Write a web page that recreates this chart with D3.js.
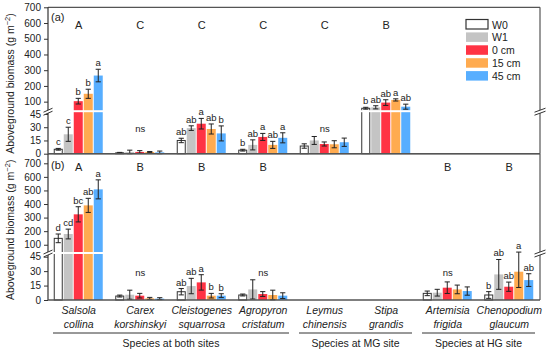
<!DOCTYPE html>
<html>
<head>
<meta charset="utf-8">
<style>
  body { margin: 0; background: #fff; }
  svg text { font-family: "Liberation Sans", Arial, sans-serif; fill: #222; }
</style>
</head>
<body>
<div id="vis"></div>
<script src="https://d3js.org/d3.v7.min.js"></script>
<script>
// species (two lines each) and treatments
const species = ['Salsola collina', 'Carex korshinskyi', 'Cleistogenes squarrosa', 'Agropyron cristatum',
                 'Leymus chinensis', 'Stipa grandis', 'Artemisia frigida', 'Chenopodium glaucum']
const treatments = ['W0', 'W1', '0 cm', '15 cm', '45 cm']
const colors = ['#ffffff', '#c4c4c4', '#ff3344', '#ffab50', '#57aeff']

// panel (a) — values per species, in treatment order
const meanA = [
  [5, 22, 103, 150, 266],
  [1, 2, 2, 2, 1.5],
  [15, 29, 34, 28, 23],
  [4, 10, 19, 10, 18],
  [8.7, 15, 11, 10.7, 13],
  [58, 64, 94, 111, 68],
  null,
  null
]
const errA = [
  [1, 8, 18, 29, 40],
  [0.5, 2, 1.5, 0.5, 1.5],
  [2.5, 2.6, 6, 5.7, 8.5],
  [1, 5.7, 4, 4, 5.7],
  [2.5, 4.5, 2.3, 4, 4.7],
  [6, 10, 18, 7, 16],
  null,
  null
]
const letA = [
  ['c', 'c', 'b', 'b', 'a'],
  'ns',
  ['ab', 'ab', 'a', 'ab', 'b'],
  ['b', 'ab', 'a', 'ab', 'a'],
  'ns',
  ['b', 'ab', 'ab', 'a', 'ab'],
  null,
  null
]
const groupA = ['A', 'C', 'C', 'C', 'C', 'B', '', '']

// panel (b)
const meanB = [
  [147, 179, 324, 390, 508],
  [4.1, 5.5, 4.5, 1.7, 1.4],
  [8.6, 14.5, 18.3, 4.5, 4.5],
  [5.2, 11, 6.2, 5.2, 4.5],
  null,
  null,
  [6.9, 7.6, 12.8, 11, 9.3],
  [5.2, 26.6, 13.8, 29.4, 20.7]
]
const errB = [
  [32, 36, 56, 52, 70],
  [1, 4.7, 2.4, 1, 1],
  [3.3, 8, 8, 2.4, 2],
  [1, 10, 2.5, 5, 3],
  null,
  null,
  [2.4, 3.5, 6, 4.5, 4.3],
  [3.5, 15.5, 4.8, 16.4, 6.6]
]
const letB = [
  ['d', 'cd', 'bc', 'ab', 'a'],
  'ns',
  ['ab', 'ab', 'a', 'b', 'b'],
  'ns',
  null,
  null,
  'ns',
  ['b', 'ab', 'ab', 'a', 'ab']
]
const groupB = ['A', 'B', 'B', 'B', '', '', 'B', 'B']

const lowTicks = [0, 15, 30, 45]
const highTicks = [100, 200, 300, 400, 500, 600, 700]
const nsLevel = 25

const siteGroups = [
  {label: 'Species at both sites', from: 0, to: 3},
  {label: 'Species at MG site', from: 4, to: 5},
  {label: 'Species at HG site', from: 6, to: 7}
]

const W = 550, H = 353
const left = 48, right = 540
const svg = d3.select('#vis').append('svg').attr('width', W).attr('height', H)

const x = d3.scaleBand().domain(species).range([left, right])
const xi = d3.scaleBand().domain(treatments).range([0, 50])
const barW = 9

const panels = [
  {name: '(a)', mean: meanA, err: errA, let: letA, grp: groupA,
   lower: d3.scaleLinear().domain([0, 45]).range([153.7, 114]),
   upper: d3.scaleLinear().domain([45, 700]).range([110.3, 7.3]),
   top: 7.3, brk: 111.2, labY: 21, grpY: 29},
  {name: '(b)', mean: meanB, err: errB, let: letB, grp: groupB,
   lower: d3.scaleLinear().domain([0, 45]).range([300, 256.7]),
   upper: d3.scaleLinear().domain([45, 700]).range([252.2, 163.3]),
   top: 153.7, brk: 253, labY: 169, grpY: 170.5}
]

function breakMark(g, cx, cy, w) {
  g.append('path')
    .attr('d', `M${cx - w},${cy + 0.5} L${cx + w},${cy - 3.5} L${cx + w},${cy - 0.5} L${cx - w},${cy + 3.5}Z`)
    .attr('fill', '#fff')
  g.append('line').attr('x1', cx - w).attr('y1', cy + 0.5).attr('x2', cx + w).attr('y2', cy - 3.5)
    .attr('stroke', '#333').attr('stroke-width', 1)
  g.append('line').attr('x1', cx - w).attr('y1', cy + 3.5).attr('x2', cx + w).attr('y2', cy - 0.5)
    .attr('stroke', '#333').attr('stroke-width', 1)
}

panels.forEach(p => {
  const g = svg.append('g')
  const y = v => v <= 45 ? p.lower(v) : p.upper(v)
  const base = p.lower(0)

  // frame
  g.append('line').attr('x1', left).attr('x2', right).attr('y1', p.top).attr('y2', p.top)
    .attr('stroke', '#555').attr('stroke-width', 1.2)
  g.append('line').attr('x1', right).attr('x2', right).attr('y1', p.top).attr('y2', base)
    .attr('stroke', '#555').attr('stroke-width', 1.2)

  // bars
  species.forEach((s, i) => {
    const m = p.mean[i]
    if (!m) return
    const gs = g.append('g').attr('transform', `translate(${x(s) + x.bandwidth() / 2 - 25},0)`)
    gs.selectAll('rect.bar')
      .data(m)
      .join('rect')
      .attr('class', 'bar')
      .attr('x', (d, j) => xi(treatments[j]) + (j === 0 ? 0.5 : 0))
      .attr('y', d => y(d))
      .attr('width', (d, j) => j === 0 ? barW - 1 : barW)
      .attr('height', d => base - y(d))
      .attr('fill', (d, j) => colors[j])
      .attr('stroke', (d, j) => j === 0 ? '#333' : 'none')
      .attr('stroke-width', 1)
  })

  // white break band through tall bars
  g.append('rect').attr('x', left + 1).attr('y', p.brk - 1).attr('width', right - left - 2).attr('height', 2)
    .attr('fill', '#fff')

  species.forEach((s, i) => {
    const m = p.mean[i]
    if (!m) return
    const e = p.err[i]
    const gs = g.append('g').attr('transform', `translate(${x(s) + x.bandwidth() / 2 - 25},0)`)
    const cx = j => xi(treatments[j]) + barW / 2
    const eb = gs.selectAll('g.err').data(m).join('g').attr('class', 'err')
    eb.append('line')
      .attr('x1', (d, j) => cx(j)).attr('x2', (d, j) => cx(j))
      .attr('y1', (d, j) => y(d - e[j])).attr('y2', (d, j) => y(d + e[j]))
      .attr('stroke', '#222').attr('stroke-width', 1)
    ;[-1, 1].forEach(sg => {
      eb.append('line')
        .attr('x1', (d, j) => cx(j) - 2.6).attr('x2', (d, j) => cx(j) + 2.6)
        .attr('y1', (d, j) => y(d + sg * e[j])).attr('y2', (d, j) => y(d + sg * e[j]))
        .attr('stroke', '#222').attr('stroke-width', 1)
    })
    const l = p.let[i]
    if (Array.isArray(l)) {
      gs.selectAll('text.let').data(m).join('text').attr('class', 'let')
        .attr('x', (d, j) => cx(j))
        .attr('y', (d, j) => y(d + e[j]) - 3)
        .attr('text-anchor', 'middle')
        .attr('font-size', 9.5)
        .text((d, j) => l[j])
    } else if (l === 'ns') {
      gs.append('text').attr('x', 25).attr('y', y(nsLevel))
        .attr('text-anchor', 'middle').attr('font-size', 9.5).text('ns')
    }
  })

  // group letters
  g.selectAll('text.grp').data(species).join('text').attr('class', 'grp')
    .attr('x', d => x(d) + x.bandwidth() / 2)
    .attr('y', p.grpY)
    .attr('text-anchor', 'middle')
    .attr('font-size', 11)
    .text((d, i) => p.grp[i])

  // y axes
  const axL = g.append('g').attr('transform', `translate(${left},0)`)
    .call(d3.axisLeft(p.lower).tickValues(lowTicks).tickSize(4).tickPadding(3).tickSizeOuter(0))
  const axH = g.append('g').attr('transform', `translate(${left},0)`)
    .call(d3.axisLeft(p.upper).tickValues(highTicks).tickSize(4).tickPadding(3).tickSizeOuter(0))
  ;[axL, axH].forEach(a => {
    a.select('.domain').remove()
    a.selectAll('text').attr('font-size', 10).attr('fill', '#222')
    a.selectAll('line').attr('stroke', '#333')
  })
  g.append('line').attr('x1', left).attr('x2', left).attr('y1', p.top).attr('y2', base)
    .attr('stroke', '#333').attr('stroke-width', 1.2)

  // bottom axis line
  g.append('line').attr('x1', left).attr('x2', right).attr('y1', base).attr('y2', base)
    .attr('stroke', '#555').attr('stroke-width', 1.6)

  breakMark(g, left, p.brk + 0.5, 4.5)
  breakMark(g, right, p.brk + 0.5, 5.5)

  g.append('text').attr('x', 51).attr('y', p.labY).attr('font-size', 11).text(p.name)

  // y title
  const ty = (p.top + base) / 2 + 3
  const t = g.append('text')
    .attr('transform', `translate(14,${ty}) rotate(-90)`)
    .attr('text-anchor', 'middle')
    .attr('font-size', 10.5)
  t.append('tspan').text('Aboveground biomass (g m')
  t.append('tspan').attr('font-size', 7.5).attr('dy', -4).text('\u22122')
  t.append('tspan').attr('dy', 4).text(')')
})

// species labels
const sl = svg.selectAll('text.sp').data(species).join('text').attr('class', 'sp')
  .attr('x', d => x(d) + x.bandwidth() / 2)
  .attr('text-anchor', 'middle')
  .attr('font-size', 10.5)
  .attr('font-style', 'italic')
sl.append('tspan').attr('x', d => x(d) + x.bandwidth() / 2).attr('y', 314).text(d => d.split(' ')[0])
sl.append('tspan').attr('x', d => x(d) + x.bandwidth() / 2).attr('y', 327.5).text(d => d.split(' ')[1])

// site groups
siteGroups.forEach(sg => {
  const x0 = x(species[sg.from]) + 5
  const x1 = x(species[sg.to]) + x.bandwidth() - 5
  svg.append('line').attr('x1', x0).attr('x2', x1).attr('y1', 333).attr('y2', 333)
    .attr('stroke', '#333').attr('stroke-width', 1)
  svg.append('text').attr('x', (x0 + x1) / 2).attr('y', 346.5)
    .attr('text-anchor', 'middle').attr('font-size', 10.5).text(sg.label)
})

// legend
const lg = svg.append('g').attr('transform', 'translate(466,19.5)')
const li = lg.selectAll('g').data(treatments).join('g')
  .attr('transform', (d, i) => `translate(0,${i * 12.9})`)
li.append('rect').attr('width', 22).attr('height', 9.5)
  .attr('fill', (d, i) => colors[i])
  .attr('stroke', (d, i) => i === 0 ? '#333' : 'none')
  .attr('stroke-width', 1.2)
li.append('text').attr('x', 26).attr('y', 9).attr('font-size', 10.5).text(d => d)
</script>
</body>
</html>
